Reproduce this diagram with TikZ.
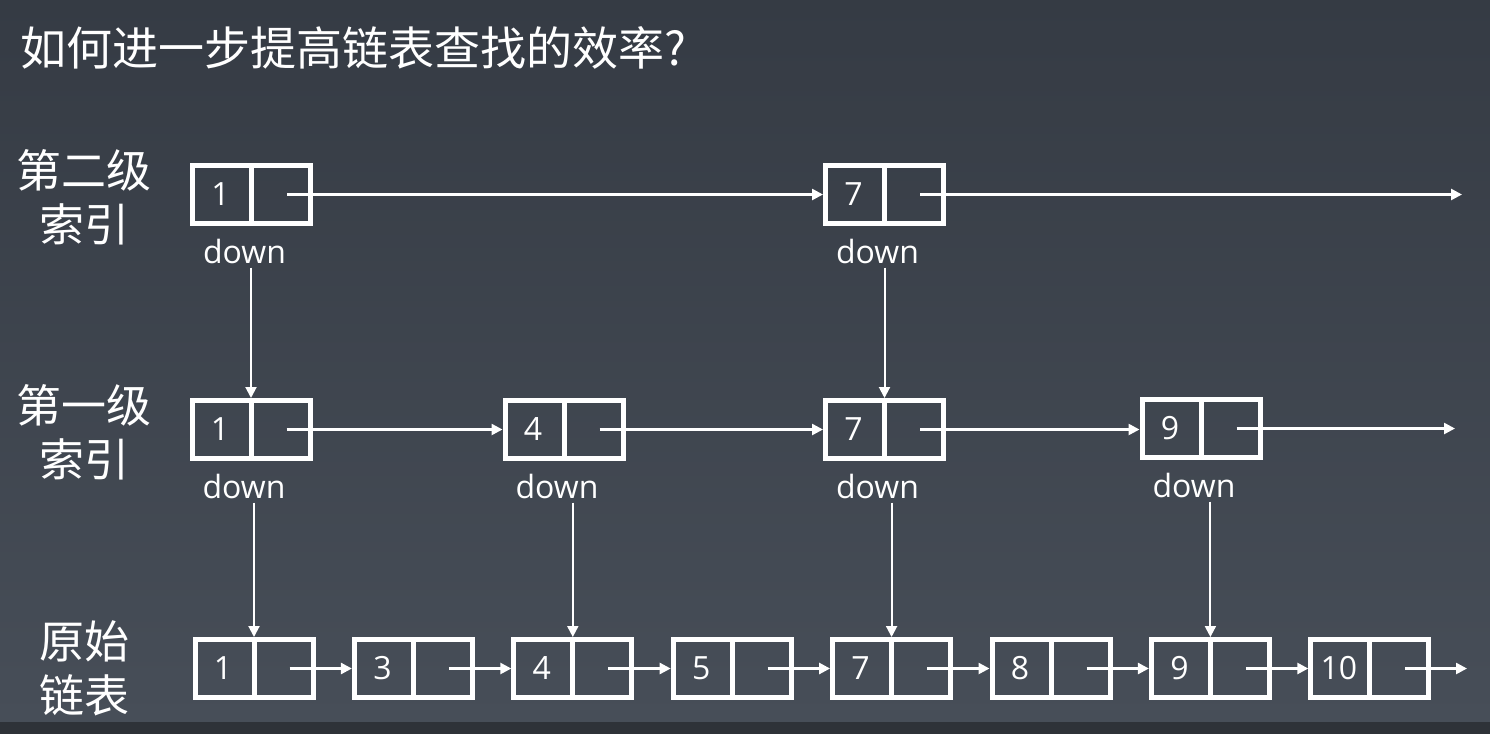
\documentclass[tikz,border=0pt]{standalone}
\usepackage{fontspec}
\setmainfont{Noto Sans CJK SC}
\newfontfamily\latinfont{Open Sans}
\usetikzlibrary{arrows.meta}
\definecolor{bgtop}{HTML}{353B44}
\definecolor{bgbot}{HTML}{474E58}
\definecolor{bgstrip}{HTML}{2E3238}
\tikzset{
  cell/.style={draw=white, line width=5pt, minimum width=118pt, minimum height=58pt, inner sep=0pt},
  num/.style={text=white, inner sep=0pt, font=\latinfont\fontsize{32}{32}\selectfont},
  downlbl/.style={text=white, inner sep=0pt, font=\latinfont\fontsize{32}{32}\selectfont},
  heading/.style={text=white, inner sep=0pt, font=\fontsize{46}{54}\selectfont},
  rowlbl/.style={text=white, inner sep=0pt, align=center, font=\fontsize{45}{54}\selectfont},
  link/.style={draw=white, line width=2.5pt, -{Triangle[length=11pt,width=11pt]}},
  drop/.style={draw=white, line width=2pt, shorten <=4pt, -{Triangle[length=11pt,width=11pt]}},
}
% a two-cell list node: frame, divider and the key in the left cell
\newcommand{\listnode}[4]{%
  \node[cell] (#1) at (#2,#3) {};
  \draw[white, line width=5pt] (#1.north) -- (#1.south);
  \node[num] at ([xshift=-31pt]#1.center) {#4};
}
\begin{document}
\begin{tikzpicture}[x=1pt,y=-1pt]
  % background
  \shade[top color=bgtop, bottom color=bgbot] (0,0) rectangle (1490,722);
  \fill[bgstrip] (0,722) rectangle (1490,734);
  \useasboundingbox (0,0) rectangle (1490,734);

  % title
  \node[heading, anchor=west] (title) at (20,48) {如何进一步提高链表查找的效率?};

  % row labels
  \node[rowlbl] (lvl2) at (84,197) {第二级\\索引};
  \node[rowlbl] (lvl1) at (84,432) {第一级\\索引};
  \node[rowlbl] (base) at (84,668) {原始\\链表};

  % second-level index
  \listnode{ta}{251.5}{194.5}{1}
  \listnode{tg}{884.5}{194.5}{7}
  \coordinate (tend) at (1462,194.5);

  % first-level index
  \listnode{ma}{251}{429.5}{1}
  \listnode{md}{564}{429.5}{4}
  \listnode{mg}{884.5}{429.5}{7}
  \listnode{mi}{1201}{428.5}{9}
  \coordinate (mend) at (1455,428.5);

  % original list
  \listnode{ba}{254}{668.5}{1}
  \listnode{bc}{413.4}{668.5}{3}
  \listnode{bd}{572.8}{668.5}{4}
  \listnode{be}{732.2}{668.5}{5}
  \listnode{bg}{891.6}{668.5}{7}
  \listnode{bh}{1051}{668.5}{8}
  \listnode{bi}{1210.4}{668.5}{9}
  \listnode{bj}{1369.8}{668.5}{10}
  \coordinate (bend) at (1467,668.5);

  % next pointers
  \draw[link] ([xshift=-26pt]ta.east) -- (tg.west);
  \draw[link] ([xshift=-26pt]tg.east) -- (tend);

  \draw[link] ([xshift=-26pt]ma.east) -- (md.west);
  \draw[link] ([xshift=-26pt]md.east) -- (mg.west);
  \draw[link] ([xshift=-26pt]mg.east) -- (mi.west |- mg.center);
  \draw[link] ([xshift=-26pt]mi.east) -- (mend);

  \draw[link] ([xshift=-26pt]ba.east) -- (bc.west);
  \draw[link] ([xshift=-26pt]bc.east) -- (bd.west);
  \draw[link] ([xshift=-26pt]bd.east) -- (be.west);
  \draw[link] ([xshift=-26pt]be.east) -- (bg.west);
  \draw[link] ([xshift=-26pt]bg.east) -- (bh.west);
  \draw[link] ([xshift=-26pt]bh.east) -- (bi.west);
  \draw[link] ([xshift=-26pt]bi.east) -- (bj.west);
  \draw[link] ([xshift=-26pt]bj.east) -- (bend);

  % down labels
  \node[downlbl] (dta) at ([xshift=-7pt,yshift=-25pt]ta.south) {down};
  \node[downlbl] (dtg) at ([xshift=-7pt,yshift=-25pt]tg.south) {down};
  \node[downlbl] (dma) at ([xshift=-7pt,yshift=-25pt]ma.south) {down};
  \node[downlbl] (dmd) at ([xshift=-7pt,yshift=-25pt]md.south) {down};
  \node[downlbl] (dmg) at ([xshift=-7pt,yshift=-25pt]mg.south) {down};
  \node[downlbl] (dmi) at ([xshift=-7pt,yshift=-25pt]mi.south) {down};

  % down pointers
  \draw[drop] (dta.south -| ma.north) -- (ma.north);
  \draw[drop] (dtg.south -| mg.north) -- (mg.north);
  \draw[drop] (dma.south -| ba.north) -- (ba.north);
  \draw[drop] (dmd.south -| bd.north) -- (bd.north);
  \draw[drop] (dmg.south -| bg.north) -- (bg.north);
  \draw[drop] (dmi.south -| bi.north) -- (bi.north);
\end{tikzpicture}
\end{document}
